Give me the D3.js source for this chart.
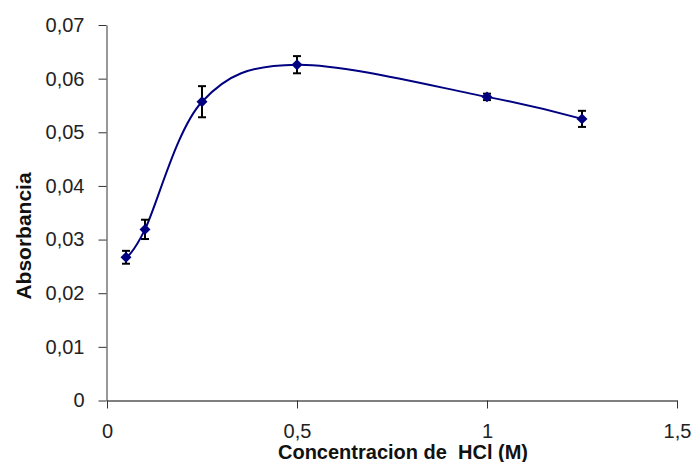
<!DOCTYPE html>
<html>
<head>
<meta charset="utf-8">
<script src="https://cdn.jsdelivr.net/npm/d3@7/dist/d3.min.js"></script>
<style>
  body { margin: 0; background: #fff; }
  text { font-family: "Liberation Sans", Arial, sans-serif; }
</style>
</head>
<body>
<div id="chart"></div>
<script>
// data
var conc = [0.05, 0.1, 0.25, 0.5, 1.0, 1.25];
var absorb = [0.0267, 0.0319, 0.0557, 0.0626, 0.0566, 0.0525];
var errs = [0.0012, 0.0018, 0.0029, 0.0016, 0.0006, 0.0015];
var xTicks = [0, 0.5, 1, 1.5];
var yTicks = [0, 0.01, 0.02, 0.03, 0.04, 0.05, 0.06, 0.07];

var width = 696, height = 462;
var fmt = d3.formatLocale({decimal: ",", thousands: ".", grouping: [3], currency: ["", ""]}).format("~g");

var svg = d3.select("#chart").append("svg")
    .attr("width", width)
    .attr("height", height);

var x = d3.scaleLinear().domain([0, 1.5]).range([107, 677]);
var y = d3.scaleLinear().domain([0, 0.07]).range([400.5, 25]);

// y axis
var yAxis = svg.append("g")
    .attr("transform", "translate(106.5,0)")
    .call(d3.axisLeft(y).tickValues(yTicks).tickSize(8).tickSizeOuter(0).tickPadding(14).tickFormat(fmt));
yAxis.select(".domain").attr("stroke", "#333");
yAxis.selectAll(".tick line").attr("stroke", "#333");
yAxis.selectAll("text")
    .attr("font-size", 20)
    .attr("fill", "#222")
    .attr("font-family", "Liberation Sans, Arial, sans-serif");

// x axis
var xAxis = svg.append("g")
    .attr("transform", "translate(0,400.5)")
    .call(d3.axisBottom(x).tickValues(xTicks).tickSize(8).tickSizeOuter(0).tickPadding(15).tickFormat(fmt));
xAxis.select(".domain").attr("stroke", "#000");
xAxis.selectAll(".tick line").attr("stroke", "#333");
xAxis.selectAll("text")
    .attr("font-size", 20)
    .attr("fill", "#222")
    .attr("font-family", "Liberation Sans, Arial, sans-serif");

// smooth line
var pts = conc.map(function(c, i) { return [c, absorb[i]]; });
var line = d3.line()
    .x(function(d) { return x(d[0]); })
    .y(function(d) { return y(d[1]); })
    .curve(d3.curveCatmullRom.alpha(0));
svg.append("path")
    .datum(pts)
    .attr("d", line)
    .attr("fill", "none")
    .attr("stroke", "#000080")
    .attr("stroke-width", 2);

// error bars
var eb = svg.append("g").attr("stroke", "#000").attr("stroke-width", 2);
pts.forEach(function(d, i) {
    var cx = x(d[0]);
    var y1 = y(d[1] + errs[i]), y2 = y(d[1] - errs[i]);
    eb.append("line").attr("x1", cx).attr("x2", cx).attr("y1", y1).attr("y2", y2);
    eb.append("line").attr("x1", cx - 4).attr("x2", cx + 4).attr("y1", y1).attr("y2", y1);
    eb.append("line").attr("x1", cx - 4).attr("x2", cx + 4).attr("y1", y2).attr("y2", y2);
});

// diamond markers
svg.append("g").selectAll("path")
    .data(pts)
    .enter().append("path")
    .attr("d", d3.symbol().type(d3.symbolSquare).size(60))
    .attr("transform", function(d) {
        return "translate(" + x(d[0]) + "," + y(d[1]) + ") rotate(45)";
    })
    .attr("fill", "#000080");

// axis titles
svg.append("text")
    .attr("x", 403)
    .attr("y", 459)
    .attr("text-anchor", "middle")
    .attr("font-size", 20)
    .attr("font-weight", "bold")
    .attr("fill", "#111")
    .attr("xml:space", "preserve")
    .text("Concentracion de  HCl (M)");

svg.append("text")
    .attr("transform", "translate(31,236) rotate(-90)")
    .attr("text-anchor", "middle")
    .attr("font-size", 21)
    .attr("font-weight", "bold")
    .attr("fill", "#111")
    .text("Absorbancia");
</script>
</body>
</html>
